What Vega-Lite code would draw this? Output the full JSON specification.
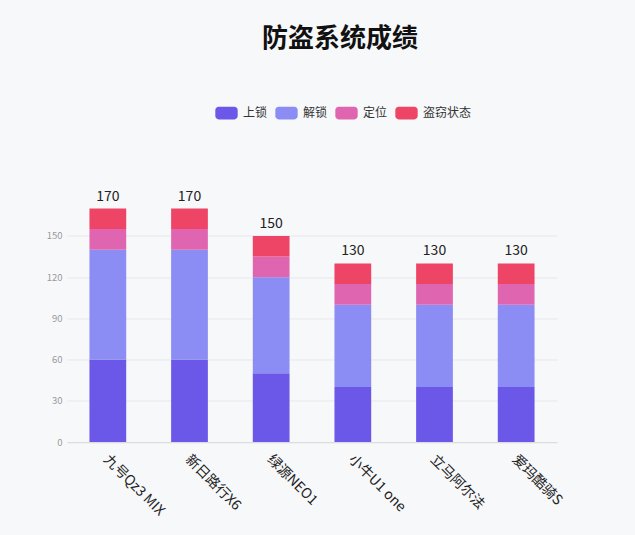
{
  "$schema": "https://vega.github.io/schema/vega-lite/v6.json",
  "width": 490,
  "height": 233.5,
  "autosize": {"type": "none"},
  "padding": {"left": 67, "top": 208.5, "right": 78, "bottom": 93},
  "background": "#f7f8fa",
  "config": {
    "font": "Noto Sans CJK SC",
    "view": {"stroke": null}
  },
  "title": {
    "text": "防盗系统成绩",
    "fontSize": 26,
    "fontWeight": "bold",
    "color": "#111111",
    "anchor": "middle",
    "frame": "group",
    "dx": 28,
    "offset": 50
  },
  "data": {
    "values": [
      {"brand": "九号Qz3 MIX", "type": "上锁", "k": 1, "v": 60},
      {"brand": "九号Qz3 MIX", "type": "解锁", "k": 2, "v": 80},
      {"brand": "九号Qz3 MIX", "type": "定位", "k": 3, "v": 15},
      {"brand": "九号Qz3 MIX", "type": "盗窃状态", "k": 4, "v": 15},
      {"brand": "新日路行X6", "type": "上锁", "k": 1, "v": 60},
      {"brand": "新日路行X6", "type": "解锁", "k": 2, "v": 80},
      {"brand": "新日路行X6", "type": "定位", "k": 3, "v": 15},
      {"brand": "新日路行X6", "type": "盗窃状态", "k": 4, "v": 15},
      {"brand": "绿源NEO1", "type": "上锁", "k": 1, "v": 50},
      {"brand": "绿源NEO1", "type": "解锁", "k": 2, "v": 70},
      {"brand": "绿源NEO1", "type": "定位", "k": 3, "v": 15},
      {"brand": "绿源NEO1", "type": "盗窃状态", "k": 4, "v": 15},
      {"brand": "小牛U1 one", "type": "上锁", "k": 1, "v": 40},
      {"brand": "小牛U1 one", "type": "解锁", "k": 2, "v": 60},
      {"brand": "小牛U1 one", "type": "定位", "k": 3, "v": 15},
      {"brand": "小牛U1 one", "type": "盗窃状态", "k": 4, "v": 15},
      {"brand": "立马阿尔法", "type": "上锁", "k": 1, "v": 40},
      {"brand": "立马阿尔法", "type": "解锁", "k": 2, "v": 60},
      {"brand": "立马阿尔法", "type": "定位", "k": 3, "v": 15},
      {"brand": "立马阿尔法", "type": "盗窃状态", "k": 4, "v": 15},
      {"brand": "爱玛酷骑S", "type": "上锁", "k": 1, "v": 40},
      {"brand": "爱玛酷骑S", "type": "解锁", "k": 2, "v": 60},
      {"brand": "爱玛酷骑S", "type": "定位", "k": 3, "v": 15},
      {"brand": "爱玛酷骑S", "type": "盗窃状态", "k": 4, "v": 15}
    ]
  },
  "encoding": {
    "x": {
      "field": "brand",
      "type": "nominal",
      "sort": null,
      "scale": {"paddingInner": 0.55, "paddingOuter": 0.275},
      "axis": {
        "title": null,
        "labelAngle": 45,
        "labelAlign": "left",
        "labelBaseline": "top",
        "labelFontSize": 14,
        "labelColor": "#222222",
        "labelPadding": 10,
        "ticks": false,
        "domainColor": "#dddddd",
        "labelOffset": 3
      }
    }
  },
  "layer": [
    {
      "mark": {"type": "bar"},
      "encoding": {
        "y": {
          "field": "v",
          "type": "quantitative",
          "stack": "zero",
          "scale": {"domain": [0, 170], "nice": false},
          "axis": {
            "title": null,
            "values": [0, 30, 60, 90, 120, 150],
            "labelFontSize": 9.5,
            "labelColor": "#999999",
            "labelPadding": 5,
            "ticks": false,
            "domain": false,
            "gridColor": "#e6e7ec",
            "gridWidth": 1
          }
        },
        "color": {
          "field": "type",
          "type": "nominal",
          "sort": ["上锁", "解锁", "定位", "盗窃状态"],
          "scale": {
            "domain": ["上锁", "解锁", "定位", "盗窃状态"],
            "range": ["#6b57e8", "#8b8df4", "#e065b0", "#ee4566"]
          },
          "legend": {
            "title": null,
            "orient": "none",
            "direction": "horizontal",
            "legendX": 148,
            "legendY": -107,
            "symbolType": "M-0.7,-0.57 L0.7,-0.57 A0.3,0.3 0 0 1 1,-0.27 L1,0.27 A0.3,0.3 0 0 1 0.7,0.57 L-0.7,0.57 A0.3,0.3 0 0 1 -1,0.27 L-1,-0.27 A0.3,0.3 0 0 1 -0.7,-0.57 Z",
            "symbolSize": 500,
            "symbolStrokeWidth": 0,
            "symbolOpacity": 1,
            "labelFontSize": 12,
            "labelColor": "#333333",
            "labelOffset": 5,
            "columnPadding": 7
          }
        },
        "order": {"field": "k", "type": "quantitative", "sort": "ascending"}
      }
    },
    {
      "transform": [
        {"aggregate": [{"op": "sum", "field": "v", "as": "total"}], "groupby": ["brand"]}
      ],
      "mark": {"type": "text", "baseline": "bottom", "dy": -5, "fontSize": 14, "color": "#222222"},
      "encoding": {
        "y": {"field": "total", "type": "quantitative"},
        "text": {"field": "total", "type": "quantitative"}
      }
    }
  ]
}
